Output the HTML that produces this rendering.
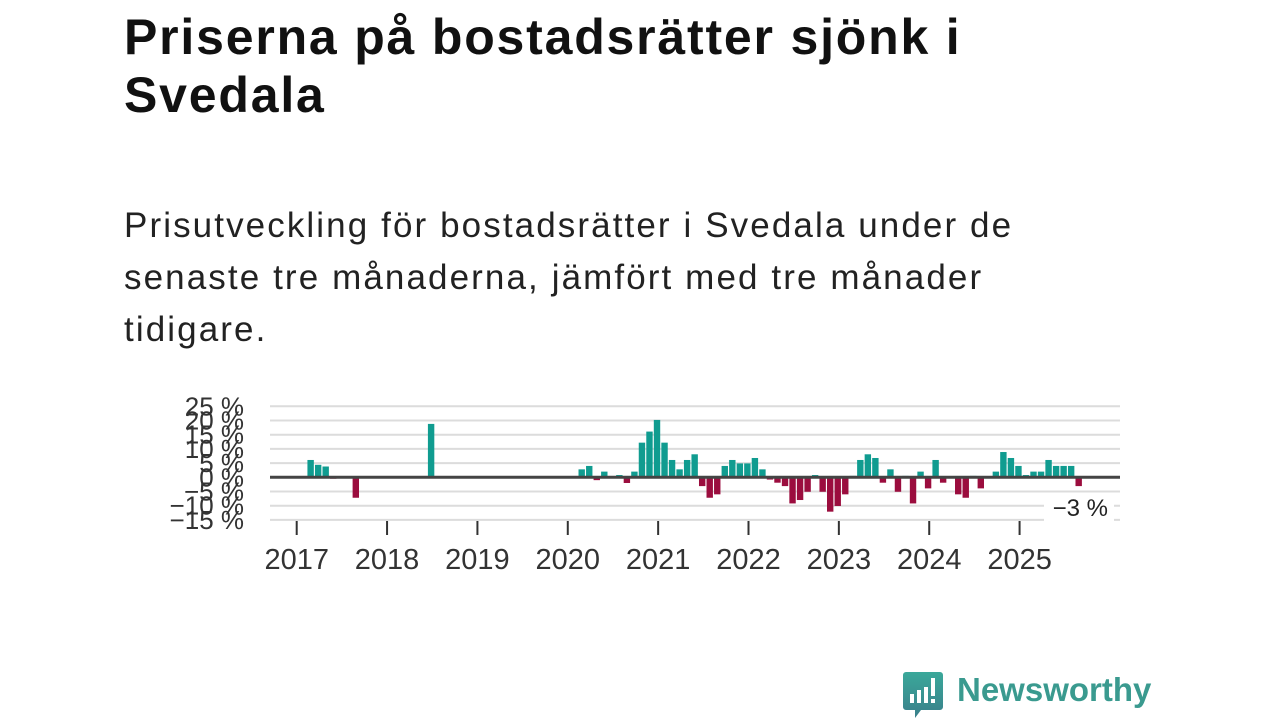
<!DOCTYPE html>
<html><head><meta charset="utf-8"><style>
body{margin:0;width:1280px;height:720px;background:#fff;overflow:hidden;font-family:"Liberation Sans",sans-serif;position:relative}
#title{position:absolute;left:124px;top:8px;margin:0;font-size:50px;line-height:58px;font-weight:bold;color:#111;white-space:nowrap;letter-spacing:1.8px}
#sub{position:absolute;left:124px;top:200px;margin:0;font-size:35px;line-height:52px;color:#222;font-weight:normal;letter-spacing:2.1px;white-space:nowrap}
#logo{position:absolute;left:903px;top:670px}
#logotext{position:absolute;left:957px;top:671px;font-size:33px;font-weight:bold;color:#3a9a8f}
</style></head><body>
<h1 id="title">Priserna på bostadsrätter sjönk i<br>Svedala</h1>
<h2 id="sub">Prisutveckling för bostadsrätter i Svedala under de<br>senaste tre månaderna, jämfört med tre månader<br>tidigare.</h2>
<svg id="chart" width="1280" height="720" style="position:absolute;left:0;top:0" xmlns="http://www.w3.org/2000/svg"></svg>
<svg id="logo" width="40" height="50" viewBox="0 0 40 50">
<defs><linearGradient id="lg" x1="0" y1="0" x2="0" y2="1"><stop offset="0" stop-color="#3aa89a"/><stop offset="1" stop-color="#3a7f8a"/></linearGradient></defs>
<path d="M3 2h34a3 3 0 0 1 3 3v32a3 3 0 0 1-3 3H18l-6 8v-8H3a3 3 0 0 1-3-3V5a3 3 0 0 1 3-3z" fill="url(#lg)"/>
<rect x="7" y="24" width="4" height="9" fill="#fff"/><rect x="14" y="20" width="4" height="13" fill="#fff"/><rect x="21" y="17" width="4" height="16" fill="#fff"/><rect x="28" y="8" width="4" height="18" fill="#fff"/><rect x="28" y="29" width="4" height="4" fill="#fff"/>
</svg>
<div id="logotext">Newsworthy</div>
<script>
const monthIndex=[1,2,3,4,7,17,37,38,39,40,42,43,44,45,46,47,48,49,50,51,52,53,54,55,56,57,58,59,60,61,62,63,64,65,66,67,68,69,70,71,72,73,74,75,76,77,78,79,80,81,82,83,84,85,87,88,89,90,92,93,94,95,96,97,98,99,100,101,102,103];
const values=[6.1,4.4,3.8,-0.5,-7.2,18.8,2.8,4,-1,2,0.8,-2,2,12.2,16.1,20.2,12.2,6.1,2.8,6.1,8.1,-3.1,-7.2,-6,4,6.1,4.9,4.9,6.8,2.8,-0.8,-1.9,-3.1,-9.2,-8,-5.1,0.8,-5.1,-12.1,-10.1,-6,0.5,6.1,8.1,6.8,-1.9,2.8,-5.1,0.5,-9.2,2,-3.9,6.1,-1.9,-6,-7.2,0.5,-3.9,2,8.9,6.8,4,0.8,2,2,6.1,4,4,4,-3.1];
const yTicks=[25,20,15,10,5,0,-5,-10,-15];
const years=[2017,2018,2019,2020,2021,2022,2023,2024,2025];
const lastLabel="−3 %";
const NS="http://www.w3.org/2000/svg";
const svg=document.getElementById('chart');
const X0=296.7,MW=7.53,L=270,R=1120;
function xm(m){return X0+m*MW;}
function y(v){return 477.3-v*2.84;}
function mk(t,a){const e=document.createElementNS(NS,t);for(const k in a)e.setAttribute(k,a[k]);svg.appendChild(e);return e;}
yTicks.forEach(v=>{
 const g=mk('line',{x1:L,x2:R,y1:y(v),y2:y(v),stroke:'#dcdcdc','stroke-width':2});
 
 
 const t=mk('text',{x:244,y:y(v)+9,'text-anchor':'end','font-size':26,fill:'#333','font-family':'Liberation Sans, sans-serif'});
 t.textContent=(v<0?'−'+(-v):v)+' %';
 
 
});
monthIndex.forEach((m,i)=>{
 const v=values[i];const cx=xm(m+0.85);
 const r=mk('rect',{x:cx-3.2,width:6.4,y:Math.min(y(v),y(0)),height:Math.abs(y(v)-y(0)),fill:v>=0?'#109c90':'#9b0d3e'});
 
 
});
const z=mk('line',{x1:L,x2:R,y1:y(0),y2:y(0),stroke:'#444','stroke-width':3});


years.forEach((yr,i)=>{
 const x=xm(i*12);
 const tk=mk('line',{x1:x,x2:x,y1:521,y2:535,stroke:'#333','stroke-width':2});
 
 
 const t=mk('text',{x:x,y:569,'text-anchor':'middle','font-size':29,fill:'#333','font-family':'Liberation Sans, sans-serif'});
 t.textContent=yr;
 
 
});
const bg=mk('rect',{x:1044,y:494,width:70,height:28,fill:'#fff'});


const lt=mk('text',{x:1108,y:516,'text-anchor':'end','font-size':24,fill:'#222','font-family':'Liberation Sans, sans-serif'});
lt.textContent=lastLabel;


</script>
</body></html>
